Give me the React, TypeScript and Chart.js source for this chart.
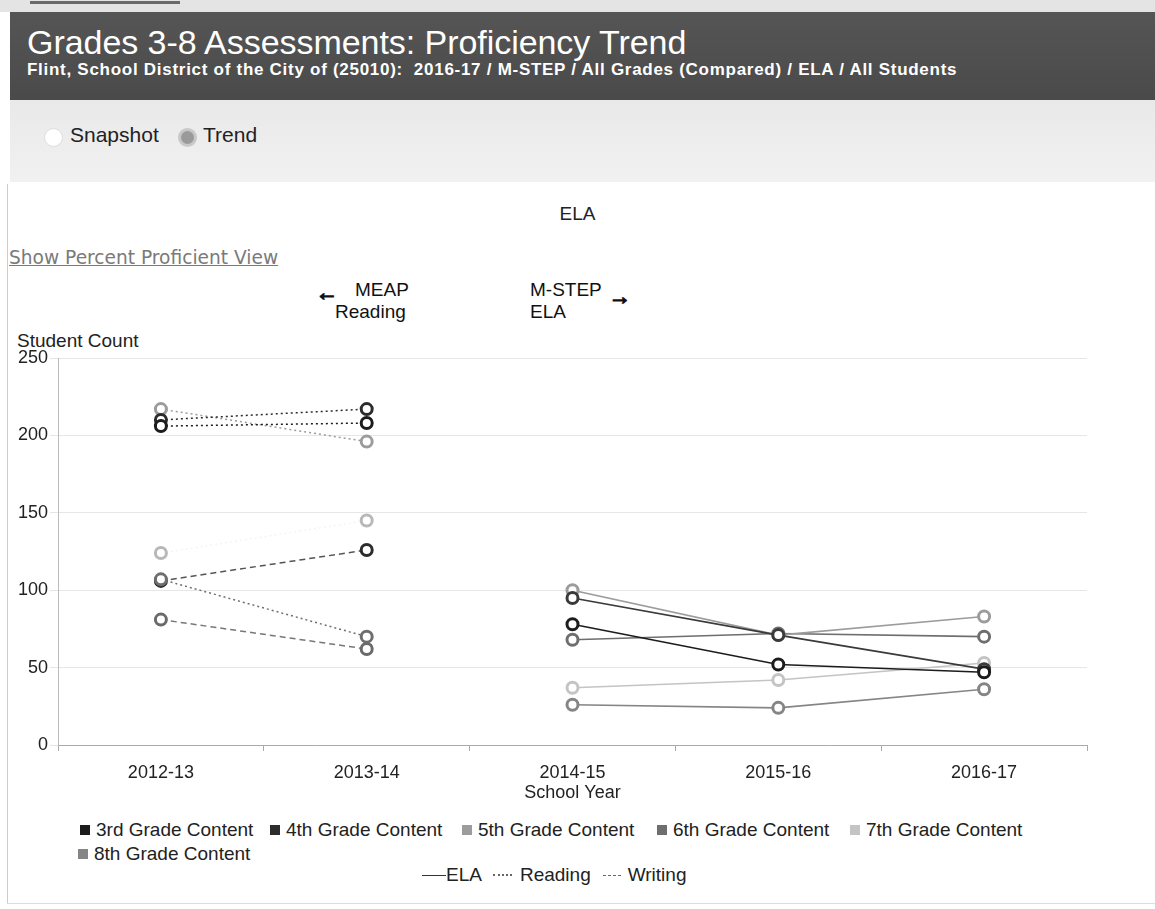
import React, { useEffect, useRef } from "react";
import { Chart, registerables } from "chart.js";

Chart.register(...registerables);

const years = ["2012-13", "2013-14", "2014-15", "2015-16", "2016-17"];
const yTicks = [0, 50, 100, 150, 200, 250];

// MEAP Reading (2012-13, 2013-14)
const reading3rd = [206, 208];
const reading4th = [210, 217];
const reading5th = [217, 196];
const reading6th = [107, 70];
const reading7th = [124, 145];
// MEAP Writing (2012-13, 2013-14)
const writing4th = [106, 126];
const writing7th = [81, 62];
// M-STEP ELA (2014-15, 2015-16, 2016-17)
const ela3rd = [78, 52, 47];
const ela4th = [95, 71, 49];
const ela5th = [100, 71, 83];
const ela6th = [68, 72, 70];
const ela7th = [37, 42, 53];
const ela8th = [26, 24, 36];

const gradeNames = [
  "3rd Grade Content",
  "4th Grade Content",
  "5th Grade Content",
  "6th Grade Content",
  "7th Grade Content",
  "8th Grade Content",
];
const gradeColors = ["#1c1c1c", "#2c2c2c", "#9c9c9c", "#6e6e6e", "#c4c4c4", "#858585"];

const FONT = '"Liberation Sans", Arial, Helvetica, sans-serif';

function early(v: number[]) {
  return [v[0], v[1], null, null, null];
}
function late(v: number[]) {
  return [null, null, v[0], v[1], v[2]];
}

function ds(label: string, data: (number | null)[], color: string, dash: number[], lineColor?: string) {
  return {
    label,
    data,
    borderColor: lineColor || color,
    pointBorderColor: color,
    pointBackgroundColor: "#ffffff",
    pointRadius: 5.5,
    pointBorderWidth: 3,
    borderWidth: dash.length ? 1.5 : 1.6,
    borderDash: dash,
    tension: 0,
    spanGaps: false,
    fill: false,
  };
}

const DOT = [2, 3];
const DASH = [6, 4];

export default function App() {
  const ref = useRef<HTMLCanvasElement | null>(null);

  useEffect(() => {
    if (!ref.current) return;
    const chart = new Chart(ref.current, {
      type: "line",
      data: {
        labels: years,
        datasets: [
          ds("3rd Reading", early(reading3rd), gradeColors[0], DOT),
          ds("4th Reading", early(reading4th), gradeColors[1], DOT),
          ds("5th Reading", early(reading5th), gradeColors[2], DOT),
          ds("6th Reading", early(reading6th), gradeColors[3], DOT),
          ds("7th Reading", early(reading7th), "#b8b8b8", DOT, "rgba(200,200,200,0.2)"),
          ds("4th Writing", early(writing4th), gradeColors[1], DASH, "#555555"),
          ds("7th Writing", early(writing7th), "#6a6a6a", DASH, "#777777"),
          ds("3rd ELA", late(ela3rd), gradeColors[0], []),
          ds("4th ELA", late(ela4th), "#3a3a3a", []),
          ds("5th ELA", late(ela5th), gradeColors[2], []),
          ds("6th ELA", late(ela6th), gradeColors[3], []),
          ds("7th ELA", late(ela7th), gradeColors[4], []),
          ds("8th ELA", late(ela8th), gradeColors[5], []),
        ],
      },
      options: {
        responsive: false,
        animation: false,
        layout: { padding: { top: 18, right: 13, bottom: 4, left: 0 } },
        plugins: {
          legend: { display: false },
          tooltip: { enabled: false },
          title: { display: false },
        },
        scales: {
          x: {
            offset: true,
            afterFit: (s: any) => {
              s.height = 63;
            },
            grid: {
              display: true,
              drawOnChartArea: false,
              drawTicks: true,
              tickLength: 6,
              offset: true,
              color: "#aaaaaa",
            },
            border: { display: true, color: "#aaaaaa", width: 1 },
            ticks: {
              color: "#222222",
              font: { size: 18, family: FONT },
              padding: 11,
              maxRotation: 0,
              autoSkip: false,
            },
            title: {
              display: true,
              text: "School Year",
              color: "#222222",
              font: { size: 18, family: FONT },
              padding: { top: 2, bottom: 4 },
            },
          },
          y: {
            min: 0,
            max: 250,
            afterBuildTicks: (s: any) => {
              s.ticks = yTicks.map((v) => ({ value: v }));
            },
            afterFit: (s: any) => {
              s.width = 58;
            },
            grid: { color: "#e6e6e6", tickLength: 8, drawTicks: true },
            border: { display: true, color: "#bbbbbb" },
            ticks: {
              color: "#222222",
              font: { size: 18, family: FONT },
              padding: 2,
            },
          },
        },
      },
    });
    return () => chart.destroy();
  }, []);

  const abs = (x: number, y: number, extra: React.CSSProperties = {}): React.CSSProperties => ({
    position: "absolute",
    left: x,
    top: y,
    whiteSpace: "nowrap",
    ...extra,
  });

  const legendItems: [number, number][] = [
    [80, 819],
    [270, 819],
    [462, 819],
    [657, 819],
    [850, 819],
    [78, 843],
  ];

  const arrowStyle: React.CSSProperties = {
    fontSize: 22,
    fontWeight: "bold",
    color: "#111",
    fontFamily: FONT,
    WebkitTextStroke: "1.3px #111",
  } as React.CSSProperties;

  return (
    <div style={{ position: "absolute", left: 0, top: 0, width: 1155, height: 909, background: "#ffffff", fontFamily: FONT, overflow: "hidden" }}>
      {/* top strip */}
      <div style={abs(0, 0, { width: 1155, height: 12, background: "#e4e4e4" })} />
      <div style={abs(30, 1, { width: 150, height: 3, background: "#6a6a6a" })} />
      {/* header */}
      <div style={abs(10, 12, { width: 1145, height: 88, background: "linear-gradient(#555555, #4a4a4a)" })} />
      <div style={abs(27, 23, { color: "#ffffff", fontSize: 34, fontFamily: FONT, letterSpacing: -0.05 })}>
        Grades 3-8 Assessments: Proficiency Trend
      </div>
      <div style={abs(27, 60, { color: "#ffffff", fontSize: 17, fontWeight: "bold", fontFamily: FONT, letterSpacing: 0.72 })}>
        Flint, School District of the City of (25010):&nbsp; 2016-17 / M-STEP / All Grades (Compared) / ELA / All Students
      </div>
      {/* panel */}
      <div style={abs(10, 100, { width: 1145, height: 82, background: "linear-gradient(#e9e9e9, #f1f1f1)" })} />
      <div style={abs(44, 128, { width: 17, height: 17, borderRadius: "50%", background: "#ffffff", border: "1px solid #dddddd" })} />
      <div style={abs(70, 123, { fontSize: 21, color: "#222222", fontFamily: FONT })}>Snapshot</div>
      <div style={abs(178, 128, { width: 13, height: 13, borderRadius: "50%", background: "#9a9a9a", border: "3px solid #c8c8c8" })} />
      <div style={abs(203, 123, { fontSize: 21, color: "#222222", fontFamily: FONT })}>Trend</div>
      {/* card border */}
      <div style={abs(7, 184, { width: 1, height: 720, background: "#cccccc" })} />
      <div style={abs(7, 903, { width: 1148, height: 1, background: "#dddddd" })} />
      {/* chart title and links */}
      <div style={abs(0, 203, { width: 1155, textAlign: "center", fontSize: 19, color: "#222222", fontFamily: FONT })}>ELA</div>
      <div style={abs(9, 247, { fontSize: 18.6, color: "#7a7a7a", textDecoration: "underline", fontFamily: '"DejaVu Sans", Verdana, sans-serif' })}>
        Show Percent Proficient View
      </div>
      <div style={abs(316, 280, arrowStyle)}>&larr;</div>
      <div style={abs(355, 279, { fontSize: 19, color: "#111" })}>MEAP</div>
      <div style={abs(335, 301, { fontSize: 19, color: "#111" })}>Reading</div>
      <div style={abs(530, 279, { fontSize: 19, color: "#111" })}>M-STEP</div>
      <div style={abs(530, 301, { fontSize: 19, color: "#111" })}>ELA</div>
      <div style={abs(609, 284, arrowStyle)}>&rarr;</div>
      <div style={abs(17, 330, { fontSize: 19, color: "#222" })}>Student Count</div>
      {/* chart */}
      <canvas ref={ref} width={1100} height={472} style={abs(0, 340, { width: 1100, height: 472 })} />
      {/* legend */}
      {gradeNames.map((n, i) => (
        <div key={n} style={abs(legendItems[i][0], legendItems[i][1], { fontSize: 19, color: "#222", display: "flex", alignItems: "center" })}>
          <span style={{ display: "inline-block", width: 10, height: 10, background: gradeColors[i], marginRight: 6 }} />
          {n}
        </div>
      ))}
      <div style={abs(422, 864, { fontSize: 19, color: "#222", display: "flex", alignItems: "center" })}>
        <span style={{ display: "inline-block", width: 24, borderTop: "1.5px solid #333" }} />
        <span>ELA</span>
        <span style={{ display: "inline-block", width: 19, marginLeft: 11, borderTop: "2px dotted #666" }} />
        <span style={{ marginLeft: 8 }}>Reading</span>
        <span style={{ display: "inline-block", width: 18, marginLeft: 12, borderTop: "1.5px dashed #666" }} />
        <span style={{ marginLeft: 7 }}>Writing</span>
      </div>
    </div>
  );
}
